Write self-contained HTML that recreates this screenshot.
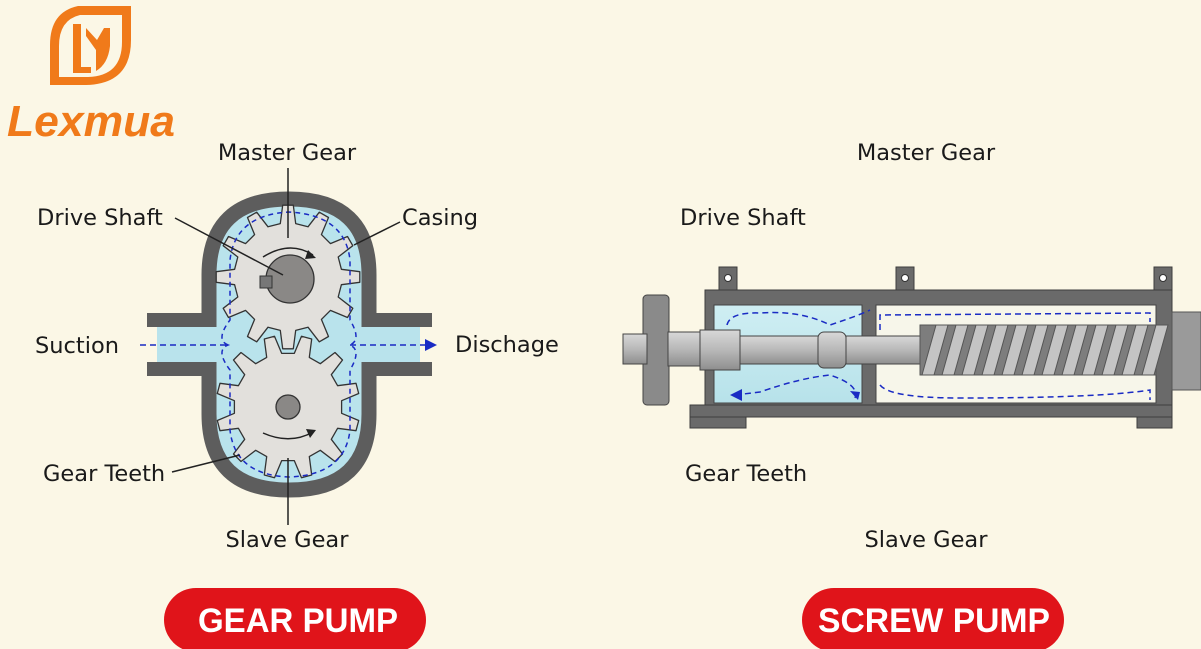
<!DOCTYPE html>
<html><head><meta charset="utf-8">
<style>
html,body{margin:0;padding:0;background:#fbf7e6;}
body{width:1201px;height:649px;overflow:hidden;position:relative;}
svg{position:absolute;left:0;top:0;}
.lb{font-family:"DejaVu Sans","Liberation Sans",sans-serif;}
</style></head><body>
<svg id="s" width="1201" height="649" viewBox="0 0 1201 649" xmlns="http://www.w3.org/2000/svg">
<defs>
<linearGradient id="sh" x1="0" y1="0" x2="0" y2="1"><stop offset="0" stop-color="#d8d8d8"/><stop offset="0.5" stop-color="#b8b8b8"/><stop offset="1" stop-color="#8e8e8e"/></linearGradient>
<linearGradient id="bl" x1="0" y1="0" x2="0" y2="1"><stop offset="0" stop-color="#cfeef3"/><stop offset="1" stop-color="#b7e2ea"/></linearGradient>
</defs>
<rect width="1201" height="649" fill="#fbf7e6"/>
<g>
<path d="M78 6 L131 6 L131 40 Q131 84 86 85 L50 85 L50 45 Q50 12 78 6 Z" fill="#f07a1a"/>
<path d="M80 15 L122 15 L122 42 Q122 76 88 77 L59 77 L59 46 Q59 20 80 15 Z" fill="#fbf7e6"/>
<path d="M73 24 L81 24 L81 67 L91 67 L91 73 L73 73 Z" fill="#f07a1a"/>
<path d="M86 28 L97 40 L104 28 L110 28 L110 46 Q108 64 96 71 L96 50 L86 36 Z" fill="#f07a1a"/>
<text x="7" y="136" textLength="168" lengthAdjust="spacingAndGlyphs" style="font-family:'Liberation Sans',sans-serif;font-weight:bold;font-style:italic;font-size:44px" fill="#f07a1a">Lexmua</text>
</g>
<rect x="157" y="327" width="263" height="35" fill="#b9e3ec"/>
<path d="M209 275 Q209 199 289 199 Q369 199 369 275 L369 414 Q369 490 289 490 Q209 490 209 414 Z" fill="#b9e3ec"/>
<path d="M209 275 Q209 199 289 199 Q369 199 369 275 L369 414 Q369 490 289 490 Q209 490 209 414 Z" fill="none" stroke="#5d5d5d" stroke-width="15"/>
<rect x="147" y="313" width="62" height="14" fill="#5d5d5d"/><rect x="147" y="362" width="62" height="14" fill="#5d5d5d"/>
<rect x="369" y="313" width="63" height="14" fill="#5d5d5d"/><rect x="369" y="362" width="63" height="14" fill="#5d5d5d"/>
<rect x="200" y="327" width="18" height="35" fill="#b9e3ec"/><rect x="360" y="327" width="18" height="35" fill="#b9e3ec"/>
<g id="gears"></g>
<path d="M228 345 Q215 340 230 320 L230 260 Q235 215 289 212 Q345 215 350 260 L350 320 Q362 340 350 345 Q362 350 350 370 L350 430 Q345 475 289 477 Q235 475 230 430 L230 370 Q215 350 228 345 Z" fill="none" stroke="#1a2bc4" stroke-width="1.5" stroke-dasharray="5,4"/>
<line x1="140" y1="345" x2="228" y2="345" stroke="#1a2bc4" stroke-width="1.5" stroke-dasharray="6,4"/>
<line x1="350" y1="345" x2="428" y2="345" stroke="#1a2bc4" stroke-width="1.5" stroke-dasharray="6,4"/>
<path d="M425 339 L437 345 L425 351 Z" fill="#1a2bc4"/>
<path d="M263 257 Q290 240 313 255" fill="none" stroke="#222" stroke-width="1.5"/><path d="M308 250 L316 258 L305 259Z" fill="#222"/>
<path d="M263 433 Q290 445 313 432" fill="none" stroke="#222" stroke-width="1.5"/><path d="M306 429 L316 430 L310 438Z" fill="#222"/>
<g stroke="#222" stroke-width="1.5">
<line x1="288" y1="168" x2="288" y2="238"/>
<line x1="288" y1="458" x2="288" y2="525"/>
<line x1="175" y1="218" x2="283" y2="275"/>
<line x1="400" y1="222" x2="354" y2="245"/>
<line x1="172" y1="472" x2="240" y2="455"/>
</g>
<g class="lb" font-size="22.5" fill="#1a1a1a">
<text x="287" y="160" text-anchor="middle">Master Gear</text>
<text x="37" y="225">Drive Shaft</text>
<text x="402" y="225">Casing</text>
<text x="35" y="353">Suction</text>
<text x="455" y="352">Dischage</text>
<text x="43" y="481">Gear Teeth</text>
<text x="287" y="547" text-anchor="middle">Slave Gear</text>
<text x="926" y="160" text-anchor="middle">Master Gear</text>
<text x="680" y="225">Drive Shaft</text>
<text x="685" y="481">Gear Teeth</text>
<text x="926" y="547" text-anchor="middle">Slave Gear</text>
</g>
<g fill="#6a6a6a" stroke="#3d3d3d" stroke-width="1">
<rect x="719" y="267" width="18" height="24"/><rect x="896" y="267" width="18" height="24"/><rect x="1154" y="267" width="18" height="24"/>
<rect x="705" y="290" width="467" height="118"/>
<rect x="690" y="408" width="56" height="20"/><rect x="1137" y="408" width="35" height="20"/>
<rect x="690" y="405" width="482" height="12"/>
</g>
<circle cx="728" cy="278" r="3.5" fill="#fff" stroke="#333"/><circle cx="905" cy="278" r="3.5" fill="#fff" stroke="#333"/><circle cx="1163" cy="278" r="3.5" fill="#fff" stroke="#333"/>
<rect x="714" y="305" width="148" height="98" fill="url(#bl)" stroke="#444"/>
<rect x="876" y="305" width="280" height="98" fill="#f7f6ea" stroke="#444"/>
<rect x="1172" y="312" width="29" height="78" fill="#9a9a9a" stroke="#555"/>
<rect x="643" y="295" width="26" height="110" rx="4" fill="#8a8a8a" stroke="#444"/>
<rect x="623" y="334" width="24" height="30" fill="url(#sh)" stroke="#444"/>
<rect x="668" y="332" width="50" height="34" fill="url(#sh)" stroke="#444"/>
<rect x="700" y="330" width="40" height="40" fill="url(#sh)" stroke="#444"/>
<rect x="740" y="336" width="90" height="28" fill="url(#sh)" stroke="#444"/>
<rect x="818" y="332" width="28" height="36" rx="6" fill="url(#sh)" stroke="#444"/>
<rect x="846" y="336" width="80" height="28" fill="url(#sh)" stroke="#444"/>
<rect x="920" y="325" width="236" height="50" fill="#7d7d7d" stroke="#555"/>
<g id="screw"></g>
<g fill="none" stroke="#1a2bc4" stroke-width="1.5" stroke-dasharray="6,4">
<path d="M727 325 Q730 312 760 313 Q800 310 830 325 Q860 315 870 310"/>
<path d="M735 395 L760 392 Q800 378 830 375 Q860 385 855 398"/>
<path d="M880 330 L880 315 L1150 313 L1150 322"/>
<path d="M880 385 Q890 398 960 398 Q1100 398 1150 390 L1150 400"/>
</g>
<path d="M730 395 L742 389 L742 401Z" fill="#1a2bc4"/><path d="M858 400 L850 391 L860 392Z" fill="#1a2bc4"/>
<rect x="164" y="588" width="262" height="64" rx="32" fill="#e0141a"/>
<text x="198" y="632" textLength="200" lengthAdjust="spacingAndGlyphs" style="font-family:'Liberation Sans',sans-serif;font-weight:bold;font-size:34px" fill="#fff">GEAR PUMP</text>
<rect x="802" y="588" width="262" height="64" rx="32" fill="#e0141a"/>
<text x="818" y="632" textLength="232" lengthAdjust="spacingAndGlyphs" style="font-family:'Liberation Sans',sans-serif;font-weight:bold;font-size:34px" fill="#fff">SCREW PUMP</text>
</svg>
<script>
function gear(cx,cy,ro,ri,n,ph){var d="";for(var i=0;i<n;i++){var a=ph+i*2*Math.PI/n,w=Math.PI/n;
var pts=[[ri,a-w*0.55],[ro,a-w*0.28],[ro,a+w*0.28],[ri,a+w*0.55]];
pts.forEach(function(p,j){var x=cx+p[0]*Math.cos(p[1]),y=cy+p[0]*Math.sin(p[1]);d+=(i==0&&j==0?"M":"L")+x.toFixed(1)+" "+y.toFixed(1)+" ";});}
return d+"Z";}
var g=document.getElementById("gears"),ns="http://www.w3.org/2000/svg";
function add(par,tag,at){var e=document.createElementNS(ns,tag);for(var k in at)e.setAttribute(k,at[k]);par.appendChild(e);}
add(g,"path",{d:gear(288,277,72,54,12,-Math.PI/2),fill:"#e2e0dc",stroke:"#333","stroke-width":1.3,"stroke-linejoin":"round"});
add(g,"path",{d:gear(288,407,72,54,12,-Math.PI/2+Math.PI/12),fill:"#e2e0dc",stroke:"#333","stroke-width":1.3,"stroke-linejoin":"round"});
add(g,"circle",{cx:290,cy:279,r:24,fill:"#8a8886",stroke:"#333","stroke-width":1.3});
add(g,"rect",{x:260,y:276,width:12,height:12,fill:"#777",stroke:"#333"});
add(g,"circle",{cx:288,cy:407,r:12,fill:"#8a8886",stroke:"#333","stroke-width":1.3});
var s=document.getElementById("screw");
for(var x=922;x<1145;x+=20){add(s,"path",{d:"M"+x+" 375 L"+(x+12)+" 375 L"+(x+26)+" 325 L"+(x+14)+" 325 Z",fill:"#c4c4c4",stroke:"#555","stroke-width":1});}
</script>
</body></html>
